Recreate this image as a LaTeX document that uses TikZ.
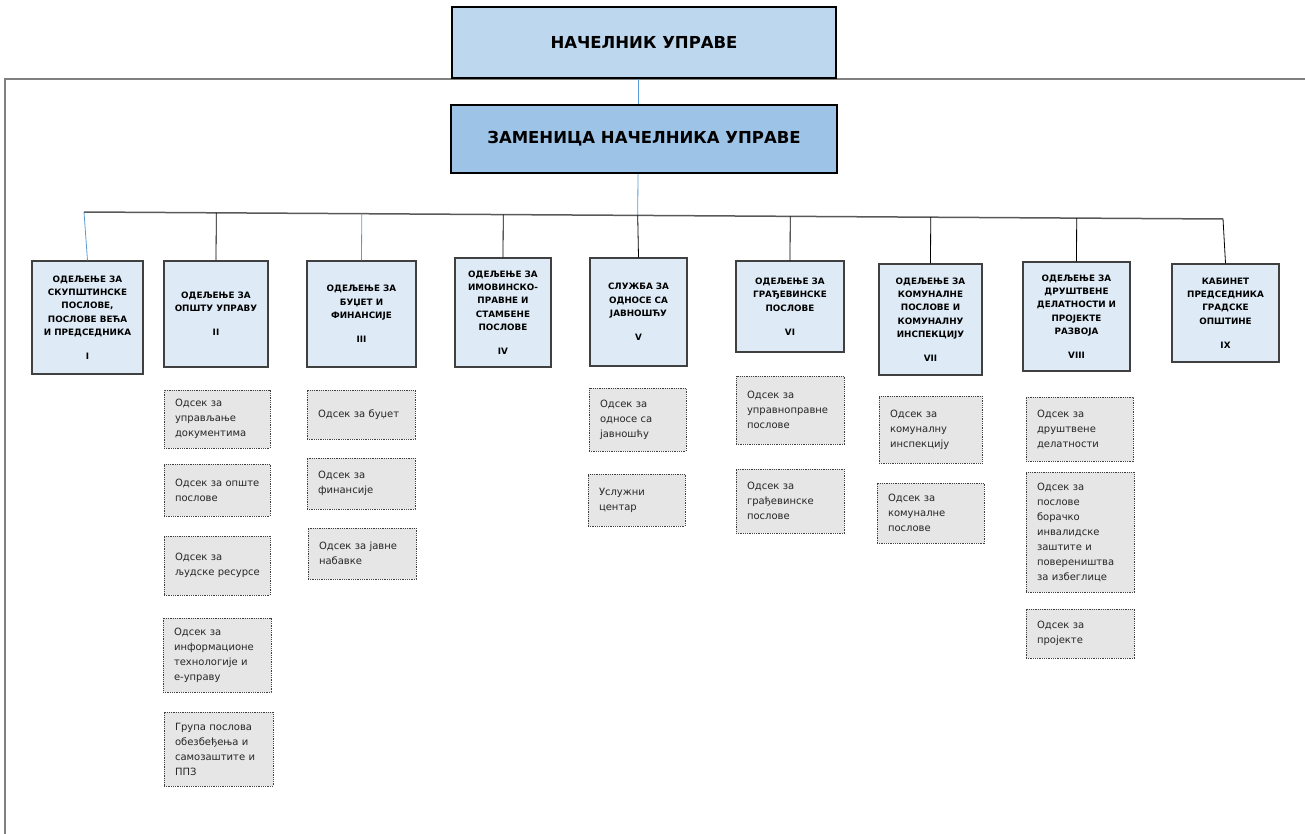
\documentclass[tikz,border=0pt]{standalone}
\usepackage{fontspec}
\setmainfont{DejaVu Sans}
\usetikzlibrary{calc}
\definecolor{topblue}{HTML}{BDD7EE}
\definecolor{zamblue}{HTML}{9DC3E6}
\definecolor{deptfill}{HTML}{DEEBF7}
\definecolor{deptline}{HTML}{404040}
\definecolor{subfill}{HTML}{E7E6E6}
\definecolor{subline}{HTML}{404040}
\definecolor{subtext}{HTML}{262626}
\definecolor{lineblue}{HTML}{5B9BD5}
\definecolor{busgray}{HTML}{595959}
\definecolor{framegray}{HTML}{808080}
\newcommand\mb[1]{\mbox{#1}}
\begin{document}
\begin{tikzpicture}[x=1pt,y=-1pt,
  topbox/.style={draw=black, line width=2pt, inner sep=0pt,
    font=\fontsize{16.5}{20}\selectfont\bfseries},
  dept/.style={draw=deptline, line width=1.2pt, fill=deptfill, align=center, inner sep=0pt,
    font=\fontsize{8.8}{13.3}\selectfont\bfseries},
  sub/.style={draw=subline, dash pattern=on 0.9pt off 0.9pt, line width=0.9pt, fill=subfill,
    font=\fontsize{10}{15}\selectfont, text=subtext, align=left, inner xsep=11pt, inner ysep=0pt},
  bline/.style={draw=lineblue, line width=0.8pt},
  kline/.style={draw=black, line width=0.8pt}]
\useasboundingbox (0,0) rectangle (1305,834);

% frame
\draw[framegray, line width=1.2pt] (5,834) -- (5,79) -- (1305,79);

% top boxes
\node[topbox, fill=topblue, minimum width=384pt, minimum height=71pt] (N) at (644,42.5) {НАЧЕЛНИК УПРАВЕ};
\node[topbox, fill=zamblue, minimum width=386pt, minimum height=68pt] (Z) at (644,139) {ЗАМЕНИЦА НАЧЕЛНИКА УПРАВЕ};

\coordinate (Nb) at ([xshift=-6pt]N.south);
\coordinate (Zt) at ([xshift=-6pt]Z.north);
\coordinate (Zs) at ([xshift=-6pt]Z.south);
\draw[bline, line width=0.6pt] (Nb) -- (Zt);

% bus
\coordinate (busL) at (84,212);
\coordinate (busR) at (1223,219);
\coordinate (Zb) at ($(busL)!(Zs)!(busR)$);

% departments
\node[dept, minimum width=111pt, minimum height=113pt] (I) at (87.5,317.5)
  {ОДЕЉЕЊЕ ЗА\\СКУПШТИНСКЕ\\ПОСЛОВЕ,\\ПОСЛОВЕ ВЕЋА\\И ПРЕДСЕДНИКА\\[10.7pt]I};
\node[dept, minimum width=104pt, minimum height=106pt] (II) at (216,314)
  {ОДЕЉЕЊЕ ЗА\\ОПШТУ УПРАВУ\\[10.7pt]II};
\node[dept, minimum width=109pt, minimum height=106pt] (III) at (361.5,314)
  {ОДЕЉЕЊЕ ЗА\\БУЏЕТ И\\ФИНАНСИЈЕ\\[10.7pt]III};
\node[dept, minimum width=96pt, minimum height=109pt] (IV) at (503,312.5)
  {ОДЕЉЕЊЕ ЗА\\ИМОВИНСКО-\\ПРАВНЕ И\\СТАМБЕНЕ\\ПОСЛОВЕ\\[10.7pt]IV};
\node[dept, minimum width=97pt, minimum height=108pt] (V) at (638.5,312)
  {СЛУЖБА ЗА\\ОДНОСЕ СА\\ЈАВНОШЋУ\\[10.7pt]V};
\node[dept, minimum width=108pt, minimum height=91pt] (VI) at (790,306.5)
  {ОДЕЉЕЊЕ ЗА\\ГРАЂЕВИНСКЕ\\ПОСЛОВЕ\\[10.7pt]VI};
\node[dept, minimum width=103pt, minimum height=111pt] (VII) at (930.5,319.5)
  {ОДЕЉЕЊЕ ЗА\\КОМУНАЛНЕ\\ПОСЛОВЕ И\\КОМУНАЛНУ\\ИНСПЕКЦИЈУ\\[10.7pt]VII};
\node[dept, minimum width=107pt, minimum height=109pt] (VIII) at (1076.5,316.5)
  {ОДЕЉЕЊЕ ЗА\\ДРУШТВЕНЕ\\ДЕЛАТНОСТИ И\\ПРОЈЕКТЕ\\РАЗВОЈА\\[10.7pt]VIII};
\node[dept, minimum width=107pt, minimum height=98pt] (IX) at (1225.5,313)
  {КАБИНЕТ\\ПРЕДСЕДНИКА\\ГРАДСКЕ\\ОПШТИНЕ\\[10.7pt]IX};

% connectors
\draw[bline] (Zs) -- (Zb);
\draw[busgray, line width=1.5pt] (busL) -- (busR);
\draw[bline] (busL) -- (I.north);
\draw[kline] ($(busL)!(II.north)!(busR)$) -- (II.north);
\draw[bline] ($(busL)!(III.north)!(busR)$) -- (III.north);
\draw[kline] ($(busL)!(IV.north)!(busR)$) -- (IV.north);
\draw[kline] (Zb) -- (V.north);
\draw[kline] ($(busL)!(VI.north)!(busR)$) -- (VI.north);
\draw[kline] ($(busL)!(VII.north)!(busR)$) -- (VII.north);
\draw[kline] ($(busL)!(VIII.north)!(busR)$) -- (VIII.north);
\draw[kline] (busR) -- (IX.north);

% sub-units II
\node[sub, text width=84pt, minimum height=58pt] (IIa) at (217,419) {\mb{Одсек за}\\\mb{управљање}\\\mb{документима}};
\node[sub, text width=84pt, minimum height=52pt] (IIb) at (217,490) {\mb{Одсек за опште}\\\mb{послове}};
\node[sub, text width=84pt, minimum height=59pt] (IIc) at (217,565.5) {\mb{Одсек за}\\\mb{људске ресурсе}};
\node[sub, text width=86pt, minimum height=74pt] (IId) at (217,655) {\mb{Одсек за}\\\mb{информационе}\\\mb{технологије и}\\\mb{е-управу}};
\node[sub, text width=87pt, minimum height=74pt] (IIe) at (218.5,749) {\mb{Група послова}\\\mb{обезбеђења и}\\\mb{самозаштите и}\\\mb{ППЗ}};
% sub-units III
\node[sub, text width=86pt, minimum height=49pt] (IIIa) at (361,414.5) {\mb{Одсек за буџет}};
\node[sub, text width=86pt, minimum height=51pt] (IIIb) at (361,483.5) {\mb{Одсек за}\\\mb{финансије}};
\node[sub, text width=86pt, minimum height=51pt] (IIIc) at (362,553.5) {\mb{Одсек за јавне}\\\mb{набавке}};
% sub-units V
\node[sub, text width=75pt, minimum height=63pt] (Va) at (637.5,419.5) {\mb{Одсек за}\\\mb{односе са}\\\mb{јавношћу}};
\node[sub, text width=75pt, minimum height=52pt] (Vb) at (636.5,500) {\mb{Услужни}\\\mb{центар}};
% sub-units VI
\node[sub, text width=86pt, minimum height=68pt] (VIa) at (790,410) {\mb{Одсек за}\\\mb{управноправне}\\\mb{послове}};
\node[sub, text width=86pt, minimum height=64pt] (VIb) at (790,501) {\mb{Одсек за}\\\mb{грађевинске}\\\mb{послове}};
% sub-units VII
\node[sub, text width=81pt, minimum height=67pt] (VIIa) at (930.5,429.5) {\mb{Одсек за}\\\mb{комуналну}\\\mb{инспекцију}};
\node[sub, text width=85pt, minimum height=60pt] (VIIb) at (930.5,513) {\mb{Одсек за}\\\mb{комуналне}\\\mb{послове}};
% sub-units VIII
\node[sub, text width=85pt, minimum height=64pt] (VIIIa) at (1079.5,429) {\mb{Одсек за}\\\mb{друштвене}\\\mb{делатности}};
\node[sub, text width=86pt, minimum height=120pt] (VIIIb) at (1080,532) {\mb{Одсек за}\\\mb{послове}\\\mb{борачко}\\\mb{инвалидске}\\\mb{заштите и}\\\mb{повереништва}\\\mb{за избеглице}};
\node[sub, text width=86pt, minimum height=49pt] (VIIIc) at (1080,633.5) {\mb{Одсек за}\\\mb{пројекте}};
\end{tikzpicture}
\end{document}
